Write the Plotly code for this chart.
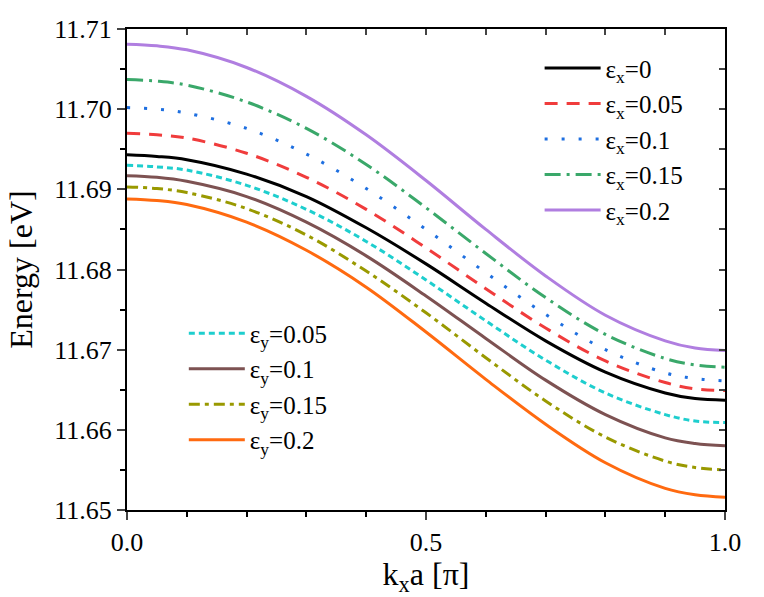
import plotly.graph_objects as go

kx = [0.0, 0.05, 0.1, 0.2, 0.3, 0.4, 0.5, 0.6, 0.7, 0.8, 0.9, 0.95, 1.0]

# strain along x
ex_0 = [11.6943, 11.6941, 11.6937, 11.6919, 11.6891, 11.6852, 11.6807, 11.6758, 11.6711, 11.6672, 11.6646, 11.6639, 11.6637]
ex_005 = [11.6970, 11.6968, 11.6964, 11.6945, 11.6915, 11.6875, 11.6827, 11.6776, 11.6727, 11.6686, 11.6659, 11.6651, 11.6649]
ex_01 = [11.7002, 11.7000, 11.6995, 11.6976, 11.6944, 11.6901, 11.6850, 11.6796, 11.6744, 11.6700, 11.6671, 11.6664, 11.6661]
ex_015 = [11.7037, 11.7035, 11.7030, 11.7009, 11.6976, 11.6931, 11.6877, 11.6820, 11.6765, 11.6719, 11.6689, 11.6681, 11.6678]
ex_02 = [11.7081, 11.7079, 11.7074, 11.7052, 11.7016, 11.6968, 11.6911, 11.6850, 11.6792, 11.6743, 11.6711, 11.6702, 11.6699]

# strain along y
ey_005 = [11.6930, 11.6928, 11.6924, 11.6905, 11.6875, 11.6835, 11.6787, 11.6736, 11.6687, 11.6646, 11.6619, 11.6611, 11.6609]
ey_01 = [11.6917, 11.6915, 11.6910, 11.6891, 11.6859, 11.6817, 11.6767, 11.6714, 11.6662, 11.6619, 11.6590, 11.6583, 11.6580]
ey_015 = [11.6903, 11.6901, 11.6896, 11.6876, 11.6843, 11.6798, 11.6746, 11.6690, 11.6636, 11.6591, 11.6561, 11.6553, 11.6550]
ey_02 = [11.6888, 11.6886, 11.6881, 11.6859, 11.6824, 11.6778, 11.6722, 11.6663, 11.6607, 11.6559, 11.6527, 11.6519, 11.6516]

FONT = '"Liberation Serif", "Times New Roman", Times, serif'

fig = go.Figure()

series = [
    (ex_0, "ε<sub>x</sub>=0", "#000000", "solid", "legend"),
    (ex_005, "ε<sub>x</sub>=0.05", "#f03c3c", "13px,9px", "legend"),
    (ex_01, "ε<sub>x</sub>=0.1", "#1e6fe0", "3px,14px", "legend"),
    (ex_015, "ε<sub>x</sub>=0.15", "#3aa86a", "16px,6px,3px,6px", "legend"),
    (ex_02, "ε<sub>x</sub>=0.2", "#b07ee0", "solid", "legend"),
    (ey_005, "ε<sub>y</sub>=0.05", "#1ecece", "6px,4px", "legend2"),
    (ey_01, "ε<sub>y</sub>=0.1", "#7d5252", "solid", "legend2"),
    (ey_015, "ε<sub>y</sub>=0.15", "#999900", "11px,5px,4px,5px", "legend2"),
    (ey_02, "ε<sub>y</sub>=0.2", "#ff6a10", "solid", "legend2"),
]

for ys, name, col, dash, leg in series:
    fig.add_trace(go.Scatter(x=kx, y=ys, name=name, mode="lines",
                             line=dict(color=col, width=3, dash=dash, shape="spline"),
                             legend=leg))

# empty trace so the mirrored top/right axes are drawn
fig.add_trace(go.Scatter(x=[None], y=[None], xaxis="x2", yaxis="y2", showlegend=False))

fig.update_layout(
    width=764, height=597,
    margin=dict(l=127, r=39, t=29, b=87),
    plot_bgcolor="white", paper_bgcolor="white",
    font=dict(family=FONT, size=26, color="black"),
    xaxis=dict(range=[0, 1], dtick=0.5, tickformat=".1f", ticks="outside", ticklen=8, tickwidth=2,
               minor=dict(dtick=0.1, ticks="outside", ticklen=5, tickwidth=2, tickcolor="black"),
               showline=True, linewidth=2, linecolor="black", showgrid=False, zeroline=False,
               tickfont=dict(family=FONT, size=26),
               title=dict(text="k<sub>x</sub>a [π]", font=dict(family=FONT, size=32), standoff=6)),
    yaxis=dict(range=[11.65, 11.71], dtick=0.01, tickformat=".2f", ticks="outside", ticklen=8, tickwidth=2,
               minor=dict(dtick=0.005, ticks="outside", ticklen=5, tickwidth=2, tickcolor="black"),
               showline=True, linewidth=2, linecolor="black", showgrid=False, zeroline=False,
               tickfont=dict(family=FONT, size=26),
               title=dict(text="Energy [eV]", font=dict(family=FONT, size=32), standoff=12)),
    xaxis2=dict(range=[0, 1], overlaying="x", side="top", anchor="y", dtick=0.1, ticks="inside",
                ticklen=6, tickwidth=2, showticklabels=False, showline=True, linewidth=2,
                linecolor="black", showgrid=False, zeroline=False),
    yaxis2=dict(range=[11.65, 11.71], overlaying="y", side="right", anchor="x", dtick=0.005,
                ticks="inside", ticklen=6, tickwidth=2, showticklabels=False, showline=True,
                linewidth=2, linecolor="black", showgrid=False, zeroline=False),
    legend=dict(x=0.69, y=0.966, xanchor="left", yanchor="top", bgcolor="rgba(0,0,0,0)",
                font=dict(family=FONT, size=25), itemwidth=56),
    legend2=dict(x=0.095, y=0.415, xanchor="left", yanchor="top", bgcolor="rgba(0,0,0,0)",
                 font=dict(family=FONT, size=25), itemwidth=56),
)

fig.write_html("out.html", config={"displayModeBar": False},
               post_script="document.body.style.margin='0px';")
